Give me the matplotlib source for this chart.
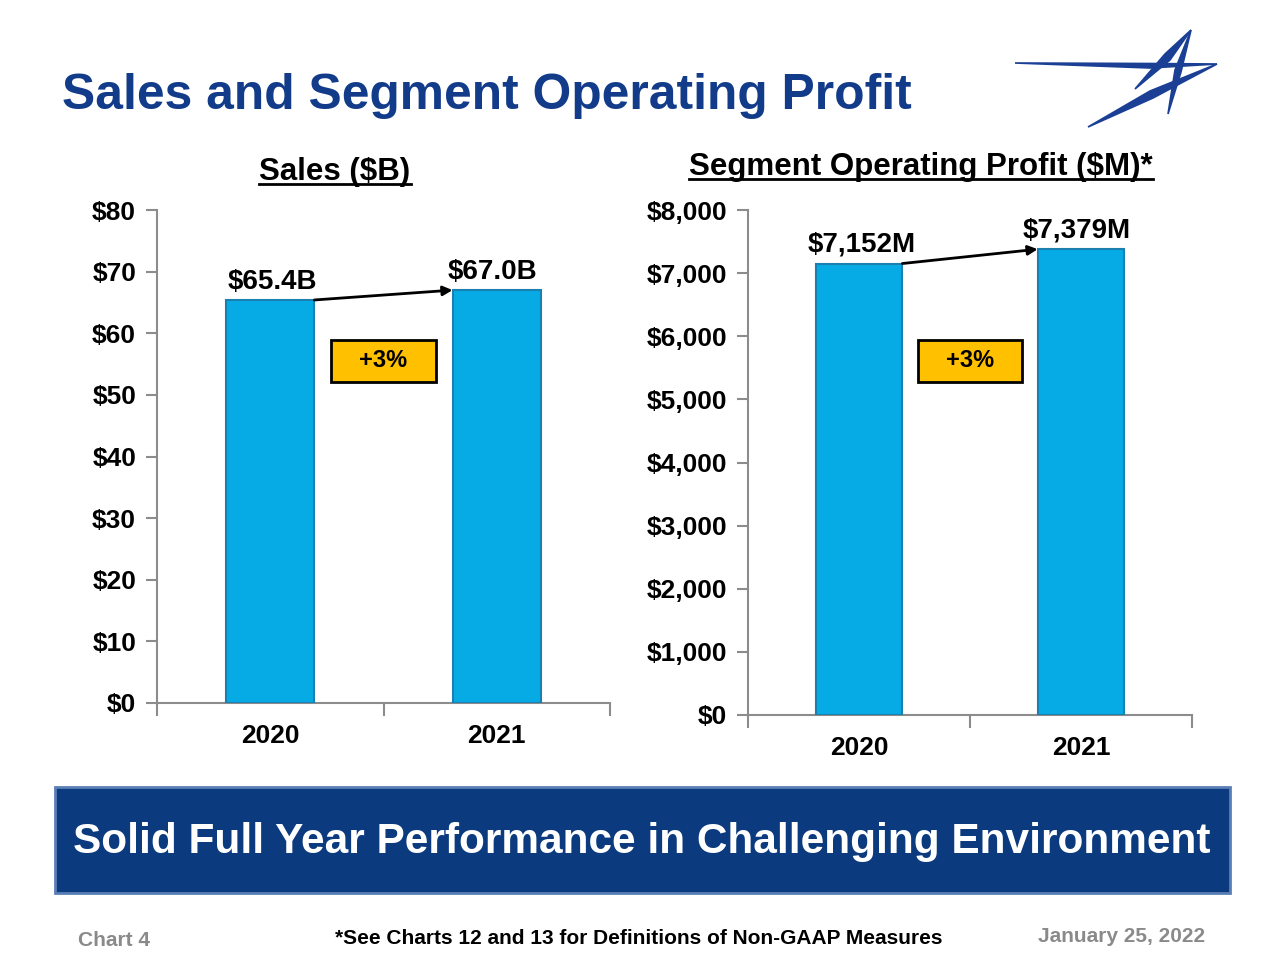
import matplotlib

matplotlib.use("Agg")
import matplotlib.pyplot as plt
from matplotlib.patches import Rectangle, Polygon
from matplotlib.lines import Line2D

plt.rcParams.update(
    {
        "font.family": ["Liberation Sans", "DejaVu Sans"],
        "font.weight": "bold",
        "axes.linewidth": 1.5,
    }
)

# ---------------------------------------------------------------------------
# Data
# ---------------------------------------------------------------------------
years = ["2020", "2021"]
sales = [65.4, 67.0]
sales_labels = ["$65.4B", "$67.0B"]
sales_ticks = [0, 10, 20, 30, 40, 50, 60, 70, 80]
profit = [7152, 7379]
profit_labels = ["$7,152M", "$7,379M"]
profit_ticks = [0, 1000, 2000, 3000, 4000, 5000, 6000, 7000, 8000]
growth = ["+3%", "+3%"]

TITLE_BLUE = "#123C8A"
BAR_FACE = "#06ABE6"
BAR_EDGE = "#1B7FB0"
SPINE = "#8C8C8C"
BAR_W = 0.39

fig = plt.figure(figsize=(12.8, 9.6), dpi=100)


def px_axes(x0, y0, x1, y1):
    # pixel box (top-left origin) -> axes
    return fig.add_axes([x0 / 1280, 1 - y1 / 960, (x1 - x0) / 1280, (y1 - y0) / 960])


def bar_panel(ax, values, labels, ticks, fmt, ymax, pct, pct_y, h_px):
    x = list(range(len(values)))
    ax.bar(x, values, width=BAR_W, color=BAR_FACE, edgecolor=BAR_EDGE, linewidth=1.5, zorder=3)
    ax.set_xlim(-0.5, len(values) - 0.5)
    ax.set_ylim(0, ymax)
    ax.set_yticks(ticks)
    ax.set_yticklabels([fmt(t) for t in ticks])
    ax.set_xticks(x)
    ax.set_xticklabels(years)
    ax.set_xticks([i - 0.5 for i in range(len(values) + 1)], minor=True)
    ax.tick_params(axis="x", which="major", length=0, pad=15, labelsize=19)
    ax.tick_params(axis="x", which="minor", length=9, width=1.5, color=SPINE)
    ax.tick_params(axis="y", length=8, width=1.5, color=SPINE, pad=7, labelsize=19)
    for s in ("top", "right"):
        ax.spines[s].set_visible(False)
    for s in ("left", "bottom"):
        ax.spines[s].set_color(SPINE)

    off = ymax * 0.011
    ax.text(x[0] + 0.01, values[0] + off, labels[0], ha="center", va="bottom", fontsize=20)
    ax.text(x[1] - 0.02, values[1] + off, labels[1], ha="center", va="bottom", fontsize=20)
    ax.annotate(
        "",
        xy=(x[1] - BAR_W / 2, values[1]),
        xytext=(x[0] + BAR_W / 2, values[0]),
        arrowprops=dict(arrowstyle="-|>", color="black", lw=2, mutation_scale=14,
                        shrinkA=0, shrinkB=0),
        zorder=5,
    )
    # growth box: ~105 x 42 px
    bw = 0.465
    bh = 42 / h_px * ymax
    ax.add_patch(Rectangle((0.5 - bw / 2, pct_y - bh / 2), bw, bh, fc="#FFC000", ec="black",
                           lw=2, zorder=6))
    ax.text(0.5, pct_y, pct, ha="center", va="center", fontsize=17, zorder=7)


ax1 = px_axes(157, 210, 610, 703)
bar_panel(ax1, sales, sales_labels, sales_ticks, lambda t: f"${t}", 80, growth[0], 55.5, 493)

ax2 = px_axes(748, 210, 1192, 715)
bar_panel(ax2, profit, profit_labels, profit_ticks, lambda t: f"${t:,}", 8000, growth[1], 5608, 505)

# ---------------------------------------------------------------------------
# Titles
# ---------------------------------------------------------------------------
fig.text(62 / 1280, 1 - 96 / 960, "Sales and Segment Operating Profit", color=TITLE_BLUE,
         fontsize=35.8, ha="left", va="center")

subtitles = [
    fig.text(335 / 1280, 1 - 172 / 960, "Sales ($B)", fontsize=22.5, ha="center", va="center"),
    fig.text(921 / 1280, 1 - 167 / 960, "Segment Operating Profit ($M)*", fontsize=22.5,
             ha="center", va="center"),
]
fig.canvas.draw()
inv = fig.transFigure.inverted()
for t in subtitles:
    bb = t.get_window_extent().transformed(inv)
    y = bb.y0 + 0.003
    fig.add_artist(Line2D([bb.x0, bb.x1], [y, y], color="black", lw=2, transform=fig.transFigure))

# ---------------------------------------------------------------------------
# Banner and footer
# ---------------------------------------------------------------------------
fig.add_artist(Rectangle((55 / 1280, 1 - 893 / 960), 1175 / 1280, 106 / 960,
                         transform=fig.transFigure, fc="#0B3A7E", ec="#5A7FB5", lw=2))
fig.text(642 / 1280, 1 - 842 / 960, "Solid Full Year Performance in Challenging Environment",
         color="white", fontsize=30.5, ha="center", va="center")

fig.text(78 / 1280, 1 - 941 / 960, "Chart 4", color="#8A8A8A", fontsize=15, ha="left", va="center")
fig.text(639 / 1280, 1 - 938 / 960, "*See Charts 12 and 13 for Definitions of Non-GAAP Measures",
         fontsize=15, ha="center", va="center")
fig.text(1205 / 1280, 1 - 937 / 960, "January 25, 2022", color="#8A8A8A", fontsize=15,
         ha="right", va="center")

# ---------------------------------------------------------------------------
# Logo (star mark)
# ---------------------------------------------------------------------------
logo = px_axes(1000, 20, 1240, 140)
logo.set_xlim(1000, 1240)
logo.set_ylim(140, 20)
logo.axis("off")
strokes = [
    [(1015, 63), (1150, 63.5), (1217, 64), (1150, 68)],
    [(1088, 127), (1150, 91), (1217, 64), (1153, 98)],
    [(1135, 89), (1165, 54), (1191, 30), (1170, 60)],
    [(1191, 30), (1181, 72), (1168, 114), (1175, 70)],
]
for pts in strokes:
    logo.add_patch(Polygon(pts, closed=True, fc="#1A3F95", ec="#1A3F95", lw=1.2))

fig.savefig("out.png", dpi=100)
